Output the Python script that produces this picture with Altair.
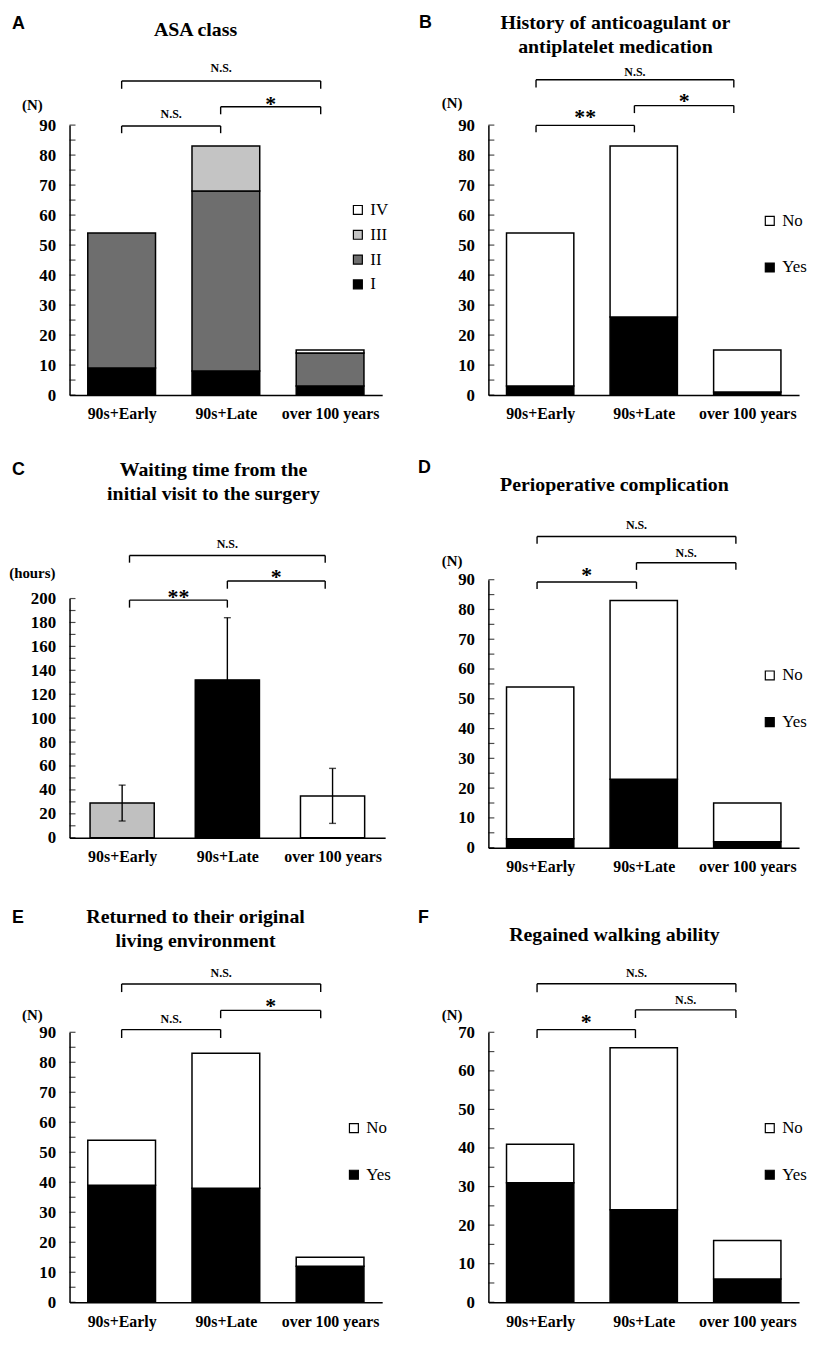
import altair as alt
import pandas as pd

# ---------------- data ----------------
cats = ["90s+Early", "90s+Late", "over 100 years"]

asa_I = [9, 8, 3]
asa_II = [45, 60, 11]
asa_III = [0, 15, 0]
asa_IV = [0, 0, 1]

anticoag_yes = [3, 26, 1]
anticoag_no = [51, 57, 14]

wait_mean = [29, 132, 35]
wait_sd = [15, 52, 23]

complication_yes = [3, 23, 2]
complication_no = [51, 60, 13]

returned_yes = [39, 38, 12]
returned_no = [15, 45, 3]

walking_yes = [31, 24, 6]
walking_no = [10, 42, 10]

# significance: [Early vs Late, Late vs over 100, Early vs over 100]
sig_A = ["N.S.", "*", "N.S."]
sig_B = ["**", "*", "N.S."]
sig_C = ["**", "*", "N.S."]
sig_D = ["*", "N.S.", "N.S."]
sig_E = ["N.S.", "*", "N.S."]
sig_F = ["*", "N.S.", "N.S."]

SERIF = "Liberation Serif"
SANS = "Liberation Sans"
PAIRS = [(0, 1), (1, 2), (0, 2)]


def stacked_df(names, series):
    rows = []
    for order, (name, vals) in enumerate(zip(names, series)):
        for i, v in enumerate(vals):
            rows.append({"idx": i, "cat": cats[i], "cls": name, "ord": order, "value": v})
    return pd.DataFrame(rows)


def make_panel(letter, letter_xy, heading, heading_xy, ytitle, ytitle_xy,
               ymax, ystep, yminor, data_layers, bx, levels, legs, label_ys, labels,
               width=315, height=272, yrange=None):
    xs = alt.Scale(domain=[-0.5, 2.5], nice=False, zero=False)
    label_expr = "[" + ",".join("'%s'" % c for c in cats) + "][datum.value]"
    xa = alt.Axis(values=[0, 1, 2], labelExpr=label_expr, title=None, grid=False, ticks=False,
                  domainColor="black", domainWidth=1.5, labelFont=SERIF, labelFontWeight="bold",
                  labelFontSize=16, labelColor="black", labelPadding=11, labelOverlap=False,
                  labelFlush=False)
    if yrange is None:
        ys = alt.Scale(domain=[0, ymax], nice=False, zero=True)
    else:
        ys = alt.Scale(domain=[0, ymax], nice=False, zero=True, range=yrange)
    ya = alt.Axis(values=list(range(0, ymax + 1, ystep)), title=ytitle, titleAngle=0,
                  titleX=ytitle_xy[0], titleY=ytitle_xy[1], titleAlign="center",
                  titleBaseline="middle", titleFont=SERIF, titleFontWeight="bold",
                  titleFontSize=15, titleColor="black", grid=False, ticks=False,
                  domainColor="black", domainWidth=1.5, labelFont=SERIF,
                  labelFontWeight="bold", labelFontSize=17, labelColor="black",
                  labelPadding=14, labelOverlap=False, labelFlush=False)

    def X(f):
        return alt.X(f, type="quantitative", scale=xs, axis=xa)

    def Y(f):
        return alt.Y(f, type="quantitative", scale=ys, axis=ya)

    layers = data_layers(X, Y)

    # inward minor ticks on the y axis
    tdf = pd.DataFrame({"t": list(range(0, ymax + 1, yminor))})
    layers.append(
        alt.Chart(tdf).mark_tick(orient="horizontal", color="black", size=6, thickness=1.2,
                                 xOffset=3)
        .encode(x=alt.X(datum=-0.5, type="quantitative", scale=xs, axis=xa), y=Y("t"))
    )

    # significance brackets
    hdf = pd.DataFrame({
        "x1": [bx[a] for a, b in PAIRS],
        "x2": [bx[b] for a, b in PAIRS],
        "level": levels,
        "ty": label_ys,
        "label": labels,
    })
    hdf["xm"] = (hdf["x1"] + hdf["x2"]) / 2
    ldf = pd.DataFrame({
        "x": [bx[a] for a, b in PAIRS] + [bx[b] for a, b in PAIRS],
        "level": levels + levels,
        "leg": legs + legs,
    })
    layers.append(alt.Chart(hdf).mark_rule(color="black", strokeWidth=1.4)
                  .encode(x=X("x1"), x2=alt.X2("x2"), y=Y("level")))
    layers.append(alt.Chart(ldf).mark_rule(color="black", strokeWidth=1.4)
                  .encode(x=X("x"), y=Y("level"), y2=alt.Y2("leg")))
    layers.append(alt.Chart(hdf).transform_filter("datum.label == 'N.S.'")
                  .mark_text(font=SERIF, fontWeight="bold", fontSize=12, baseline="middle",
                             align="center", color="black")
                  .encode(x=X("xm"), y=Y("ty"), text="label:N"))
    layers.append(alt.Chart(hdf).transform_filter("datum.label != 'N.S.'")
                  .mark_text(font=SERIF, fontWeight="bold", fontSize=22, baseline="middle",
                             align="center", color="black", dy=4)
                  .encode(x=X("xm"), y=Y("ty"), text="label:N"))

    one = pd.DataFrame({"k": [0]})
    # heading: y is the centre of its first line
    layers.append(alt.Chart(one).mark_text(font=SERIF, fontSize=20, fontWeight="bold",
                                           align="center", baseline="middle", lineBreak="\n",
                                           lineHeight=24, color="black")
                  .encode(x=alt.value(heading_xy[0]), y=alt.value(heading_xy[1]),
                          text=alt.value(heading)))
    layers.append(alt.Chart(one).mark_text(font=SANS, fontSize=18, fontWeight="bold",
                                           align="left", baseline="middle", color="black")
                  .encode(x=alt.value(letter_xy[0]), y=alt.value(letter_xy[1]),
                          text=alt.value(letter)))
    return alt.layer(*layers).properties(width=width, height=height)


def stacked_layers(names, series, legend_order, legend_colors, legend, half=0.325):
    df = stacked_df(names, series)

    def fn(X, Y):
        return [
            alt.Chart(df).transform_filter("datum.value > 0")
            .transform_stack(stack="value", groupby=["idx"], as_=["v0", "v1"],
                             sort=[alt.SortField("ord", order="ascending")])
            .transform_calculate(xl="datum.idx - %f" % half, xr="datum.idx + %f" % half)
            .mark_bar(stroke="black", strokeWidth=1.5)
            .encode(x=X("xl"), x2=alt.X2("xr"), y=Y("v0"), y2=alt.Y2("v1"),
                    fill=alt.Fill("cls:N", scale=alt.Scale(domain=legend_order,
                                                           range=legend_colors),
                                  legend=legend))
        ]
    return fn


def yn_legend(lx):
    return alt.Legend(title=None, orient="none", legendX=lx, legendY=88,
                      symbolType="square", symbolSize=81, symbolStrokeColor="black",
                      symbolStrokeWidth=1.2, labelFont=SERIF, labelFontSize=17,
                      labelColor="black", rowPadding=29, padding=0, labelOffset=4,
                      symbolOpacity=1)


def yes_no(yes, no, lx):
    return stacked_layers(["Yes", "No"], [yes, no], ["No", "Yes"], ["white", "black"],
                          yn_legend(lx))


asa_legend = alt.Legend(title=None, orient="none", legendX=282, legendY=77,
                        symbolType="square", symbolSize=81, symbolStrokeColor="black",
                        symbolStrokeWidth=1.2, labelFont=SERIF, labelFontSize=17,
                        labelColor="black", rowPadding=7, padding=0, labelOffset=4,
                        symbolOpacity=1)

panel_A = make_panel(
    "A", (-58, -102), "ASA class", (127, -96), "(N)", (-38, -21), 90, 10, 5,
    stacked_layers(["I", "II", "III", "IV"], [asa_I, asa_II, asa_III, asa_IV],
                   ["IV", "III", "II", "I"], ["white", "#c4c4c4", "#6e6e6e", "black"],
                   asa_legend),
    [0, 0.95, 1.91], [89.7, 96.1, 104.7], [87.3, 93.6, 102.1], [93.6, 98.5, 109], sig_A)

panel_B = make_panel(
    "B", (-70, -103), "History of anticoagulant or\nantiplatelet medication", (128, -103),
    "(N)", (-37, -23), 90, 10, 5, yes_no(anticoag_yes, anticoag_no, 275),
    [-0.04, 0.91, 1.87], [89.9, 96.5, 105.1], [87.6, 94, 102.5], [94, 99.5, 107.8], sig_B,
    width=313)


def wait_layers(X, Y):
    df = pd.DataFrame({"idx": [0, 1, 2], "cat": cats, "mean": wait_mean, "sd": wait_sd})
    half = 0.305
    base = alt.Chart(df).transform_calculate(
        xl="datum.idx - %f" % half, xr="datum.idx + %f" % half, zero="0",
        lo="datum.mean - datum.sd", hi="datum.mean + datum.sd")
    bars = base.mark_bar(stroke="black", strokeWidth=1.5).encode(
        x=X("xl"), x2=alt.X2("xr"), y=Y("mean"), y2=alt.Y2("zero"),
        fill=alt.Fill("cat:N", scale=alt.Scale(domain=cats, range=["#c0c0c0", "black", "white"]),
                      legend=None))
    err = base.mark_rule(color="black", strokeWidth=1.4).encode(
        x=X("idx"), y=Y("lo"), y2=alt.Y2("hi"))
    cap_lo = base.mark_tick(orient="horizontal", color="black", size=7, thickness=1.4).encode(
        x=X("idx"), y=Y("lo"))
    cap_hi = base.mark_tick(orient="horizontal", color="black", size=7, thickness=1.4).encode(
        x=X("idx"), y=Y("hi"))
    return [bars, err, cap_lo, cap_hi]


# C shares its row top with D; its value axis starts 19px below that top
panel_C = make_panel(
    "C", (-58, -110), "Waiting time from the\ninitial visit to the surgery", (145, -110),
    "(hours)", (-38, -7), 200, 20, 10, wait_layers,
    [0.07, 1.0, 1.93], [198.7, 214.7, 236], [192.4, 208.2, 230], [204.2, 221, 245.6], sig_C,
    width=318, height=260, yrange=[260, 19])

panel_D = make_panel(
    "D", (-71, -112), "Perioperative complication", (127, -95), "(N)", (-37, -19),
    90, 10, 5, yes_no(complication_yes, complication_no, 275),
    [-0.03, 0.93, 1.89], [89.2, 95.7, 104.5], [86.9, 93.3, 102.1], [92.8, 99.1, 108.4], sig_D,
    width=313, height=270)

panel_E = make_panel(
    "E", (-58, -115), "Returned to their original\nliving environment", (127, -116),
    "(N)", (-38, -18), 90, 10, 5, yes_no(returned_yes, returned_no, 278),
    [0, 0.95, 1.91], [90.9, 97.3, 106.1], [88.1, 94.7, 103.4], [94.4, 100.2, 109.7], sig_E)

panel_F = make_panel(
    "F", (-71, -115), "Regained walking ability", (127, -98), "(N)", (-37, -18),
    70, 10, 5, yes_no(walking_yes, walking_no, 275),
    [-0.03, 0.92, 1.89], [70.7, 75.8, 82.6], [68.5, 73.7, 80.4], [73.6, 78.4, 85.4], sig_F,
    width=313)

chart = alt.concat(
    panel_A, panel_B, panel_C, panel_D, panel_E, panel_F,
    columns=2, spacing={"row": 186, "column": 104}, bounds="flush",
).resolve_scale(
    x="independent", y="independent", fill="independent"
).resolve_axis(
    x="independent", y="independent"
).resolve_legend(
    fill="independent"
).configure_view(stroke=None).properties(
    padding={"left": 0, "top": 0, "right": 0, "bottom": 0}, background="white")

chart.save("out.html", embed_options={"renderer": "svg", "actions": False})
